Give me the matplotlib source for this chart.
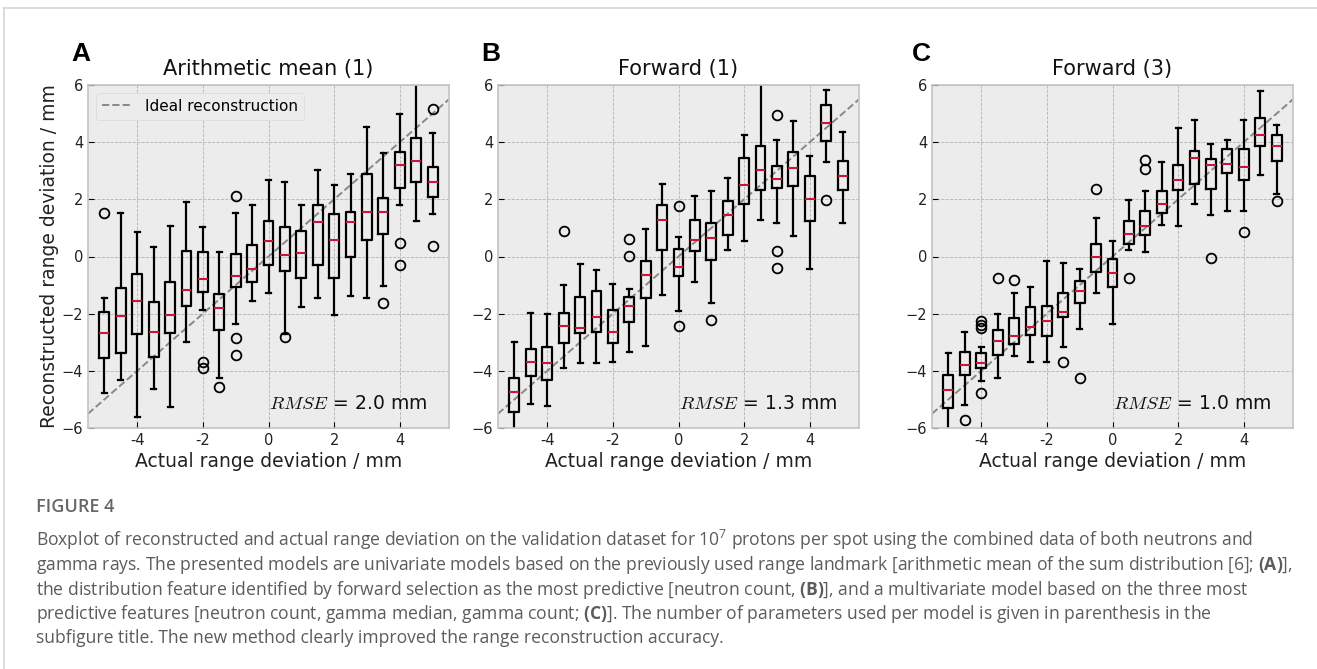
import matplotlib
matplotlib.use("Agg")
import matplotlib.pyplot as plt
from matplotlib.lines import Line2D

plt.style.use('bmh')
plt.rcParams['mathtext.rm'] = 'Open Sans'
plt.rcParams['mathtext.it'] = 'Open Sans:italic'
plt.rcParams['mathtext.bf'] = 'Open Sans:bold'

# ---------------- data ----------------
positions = [-5, -4.5, -4, -3.5, -3, -2.5, -2, -1.5, -1, -0.5, 0,
             0.5, 1, 1.5, 2, 2.5, 3, 3.5, 4, 4.5, 5]
xtick_vals = [-4, -2, 0, 2, 4]
xtick_labels = ["-4", "-2", "0", "2", "4"]
ytick_vals = [-6, -4, -2, 0, 2, 4, 6]

titles = ["Arithmetic mean (1)", "Forward (1)", "Forward (3)"]
panel_letters = ["A", "B", "C"]
rmse_values = ["2.0", "1.3", "1.0"]

# Panel A
whislo_a = [-4.78, -4.32, -5.6, -4.64, -5.25, -2.98, -1.87, -4.24, -2.37, -1.55, -1.28,
            -2.72, -1.77, -1.44, -2.04, -1.37, -1.46, -1.04, 1.79, 1.23, 1.48]
q1_a = [-3.56, -3.38, -2.71, -3.5, -2.68, -1.72, -1.23, -2.57, -1.05, -0.9, -0.29,
        -0.49, -0.76, -0.3, -0.76, -0.02, 0.56, 0.78, 2.38, 2.6, 2.07]
med_a = [-2.68, -2.08, -1.54, -2.63, -2.05, -1.17, -0.79, -1.79, -0.68, -0.42, 0.54,
         0.06, 0.12, 1.19, 0.58, 1.2, 1.55, 1.56, 3.2, 3.34, 2.61]
q3_a = [-1.93, -1.11, -0.62, -1.6, -0.9, 0.2, 0.15, -1.32, 0.08, 0.39, 1.25,
        1.02, 0.9, 1.81, 1.49, 1.55, 2.89, 2.03, 3.66, 4.13, 3.14]
whishi_a = [-1.46, 1.52, 0.85, 0.33, 1.07, 1.9, 1.02, 0.15, 1.53, 1.81, 2.68,
            2.6, 1.79, 3.03, 2.51, 2.88, 4.53, 3.63, 4.97, 6.3, 4.31]
fliers_a = [[1.52], [], [], [], [], [], [-3.68, -3.91], [-4.57], [2.12, -2.84, -3.44], [], [],
            [-2.8], [], [], [], [], [], [-1.62], [0.46, -0.28], [], [5.15, 0.37]]

# Panel B
whislo_b = [-6.3, -5.17, -5.22, -3.91, -3.73, -3.71, -3.7, -3.33, -3.12, -1.34, -1.89,
            -0.9, -1.61, 0.23, 0.53, 1.28, 1.17, 0.7, -0.44, 3.3, 1.17]
q1_b = [-5.43, -4.18, -4.32, -3.03, -2.68, -2.63, -3.03, -2.28, -1.44, 0.21, -0.68,
        0.2, -0.12, 0.76, 1.83, 2.33, 2.39, 2.45, 1.25, 4.03, 2.31]
med_b = [-4.73, -3.68, -3.73, -2.43, -2.49, -2.1, -2.65, -1.73, -0.64, 1.26, -0.35,
         0.58, 0.63, 1.46, 2.51, 3.03, 2.71, 3.09, 2.02, 4.67, 2.82]
q3_b = [-4.26, -3.24, -3.17, -1.98, -1.4, -1.19, -1.87, -1.4, -0.14, 1.79, 0.27,
        1.28, 1.17, 1.95, 3.44, 3.85, 3.17, 3.65, 2.8, 5.31, 3.33]
whishi_b = [-2.98, -1.98, -2.02, -0.99, -0.27, -0.47, -0.97, -1.14, 0.97, 2.54, 0.68,
            2.1, 2.3, 2.74, 4.26, 6.4, 4.08, 4.73, 3.5, 5.83, 4.34]
fliers_b = [[], [], [], [0.88], [], [], [], [0.61, 0.02], [], [], [1.77, -2.42],
            [], [-2.22], [], [], [], [4.96, 0.18, -0.41], [], [], [1.98], []]

# Panel C
whislo_c = [-6.3, -5.19, -4.34, -4.26, -3.48, -3.68, -3.7, -3.15, -2.53, -1.28, -2.36,
            0.23, 0.15, 1.11, 1.07, 1.84, 1.44, 1.58, 1.58, 2.86, 2.19]
q1_c = [-5.29, -4.14, -3.91, -3.44, -3.06, -2.74, -2.77, -2.1, -1.61, -0.55, -1.07,
        0.44, 0.74, 1.52, 2.33, 2.54, 2.36, 2.92, 2.68, 3.85, 3.33]
med_c = [-4.67, -3.79, -3.71, -2.94, -2.77, -2.45, -2.24, -1.95, -1.19, 0.0, -0.56,
         0.79, 1.05, 1.84, 2.68, 3.44, 3.19, 3.23, 3.13, 4.26, 3.85]
q3_c = [-4.14, -3.33, -3.38, -2.57, -2.16, -1.77, -1.72, -1.28, -0.84, 0.43, -0.08,
        1.23, 1.58, 2.28, 3.21, 3.68, 3.41, 3.77, 3.76, 4.84, 4.24]
whishi_c = [-3.38, -2.65, -3.17, -2.01, -1.28, -1.07, -0.15, -0.21, -0.44, 1.34, 0.53,
            1.98, 2.3, 3.3, 4.49, 4.78, 3.94, 4.06, 4.78, 5.8, 4.61]
fliers_c = [[], [-5.72], [-2.25, -2.38, -2.5, -4.76], [-0.74], [-0.82], [], [], [-3.68], [-4.26], [2.36], [],
            [-0.76], [3.36, 3.06], [], [], [], [-0.06], [], [0.84], [], [1.93]]

ideal_x = [-5.5, 5.5]
ideal_y = [-5.5, 5.5]

caption_title = "FIGURE 4"
caption_lines = [
    r"Boxplot of reconstructed and actual range deviation on the validation dataset for $10^7$ protons per spot using the combined data of both neutrons and",
    r"gamma rays. The presented models are univariate models based on the previously used range landmark [arithmetic mean of the sum distribution [6]; $\mathbf{(A)}$],",
    r"the distribution feature identified by forward selection as the most predictive [neutron count, $\mathbf{(B)}$], and a multivariate model based on the three most",
    r"predictive features [neutron count, gamma median, gamma count; $\mathbf{(C)}$]. The number of parameters used per model is given in parenthesis in the",
    r"subfigure title. The new method clearly improved the range reconstruction accuracy.",
]

panels = [
    (whislo_a, q1_a, med_a, q3_a, whishi_a, fliers_a),
    (whislo_b, q1_b, med_b, q3_b, whishi_b, fliers_b),
    (whislo_c, q1_c, med_c, q3_c, whishi_c, fliers_c),
]

# ---------------- figure ----------------
W, H = 1317, 669
fig = plt.figure(figsize=(W / 100, H / 100), dpi=100, facecolor='white')

ax_left_px = [88, 498, 932]
ax_w_px, ax_top_px, ax_bot_px = 361, 85, 428
letter_x_px = [71, 481, 912]

box_kw = dict(color='black', linewidth=1.6)
for i, (lo, q1, med, q3, hi, fl) in enumerate(panels):
    ax = fig.add_axes([ax_left_px[i] / W, 1 - ax_bot_px / H,
                       ax_w_px / W, (ax_bot_px - ax_top_px) / H])
    ax.set_facecolor('#ececec')
    line, = ax.plot(ideal_x, ideal_y, linestyle='--', color='#888888',
                    linewidth=1.4, label='Ideal reconstruction', zorder=2)
    stats = [dict(whislo=a, q1=b, med=c, q3=d, whishi=e, fliers=f)
             for a, b, c, d, e, f in zip(lo, q1, med, q3, hi, fl)]
    ax.bxp(stats, positions=positions, widths=0.3, manage_ticks=False,
           boxprops=box_kw, whiskerprops=box_kw, capprops=box_kw,
           medianprops=dict(color='#C8163A', linewidth=1.5),
           flierprops=dict(marker='o', markerfacecolor='none',
                           markeredgecolor='black', markersize=7,
                           markeredgewidth=1.3))
    ax.set_xlim(-5.5, 5.5)
    ax.set_ylim(-6, 6)
    ax.set_xticks(xtick_vals)
    ax.set_xticklabels(xtick_labels)
    ax.set_yticks(ytick_vals)
    ax.tick_params(labelsize=10.5, direction='in', colors='black', length=4)
    ax.tick_params(axis='both', labelcolor='#222222')
    ax.grid(True, color='#b2b2b2', linestyle='--', linewidth=0.6)
    for s in ax.spines.values():
        s.set_color('#c4c4c4')
        s.set_linewidth(1.2)
    ax.set_xlabel("Actual range deviation / mm", fontsize=13.5, color='#222222', labelpad=3)
    if i == 0:
        ax.set_ylabel("Reconstructed range deviation / mm", fontsize=13.5, color='#222222', labelpad=2)
        ax.legend(handles=[line], loc='upper left', fontsize=11, frameon=True,
                  facecolor='#ececec', edgecolor='#d8d8d8', framealpha=1,
                  borderaxespad=0.5)
    ax.set_title(titles[i], fontsize=15, pad=7, color='#111111')
    ax.text(0.94, 0.045, r"$RMSE$ = " + rmse_values[i] + " mm", transform=ax.transAxes,
            ha='right', va='bottom', fontsize=13.5, color='#111111',
            math_fontfamily='cm')
    fig.text(letter_x_px[i] / W, 1 - 61 / H, panel_letters[i], fontsize=19,
             fontweight='bold', family=['Liberation Sans', 'DejaVu Sans'],
             ha='left', va='baseline', color='black')

# caption
fig.text(36 / W, 1 - 512 / H, caption_title, fontsize=13, fontweight='semibold',
         family=['Open Sans', 'DejaVu Sans'], color='#666666', va='baseline', ha='left')
line_y_px = [546, 570, 595, 619, 643]
cap_texts = []
for s, ypx in zip(caption_lines, line_y_px):
    t = fig.text(36 / W, 1 - ypx / H, s, fontsize=11, family=['Open Sans', 'DejaVu Sans'],
                 color='#5c5c5c', va='baseline', ha='left', math_fontfamily='custom')
    cap_texts.append(t)

# fit caption font size so that the widest line spans the reference text block width
renderer = fig.canvas.get_renderer()
widest = max(t.get_window_extent(renderer).width for t in cap_texts)
scale = 1260 / widest
for t in cap_texts:
    t.set_fontsize(11 * scale)

# card border (top and left)
fig.add_artist(Line2D([4 / W, 4 / W], [0, 1 - 8 / H], transform=fig.transFigure,
                      color='#d5d5d5', linewidth=1.2))
fig.add_artist(Line2D([4 / W, 1], [1 - 8 / H, 1 - 8 / H], transform=fig.transFigure,
                      color='#d5d5d5', linewidth=1.2))

fig.savefig("out.png", dpi=100, facecolor='white')
